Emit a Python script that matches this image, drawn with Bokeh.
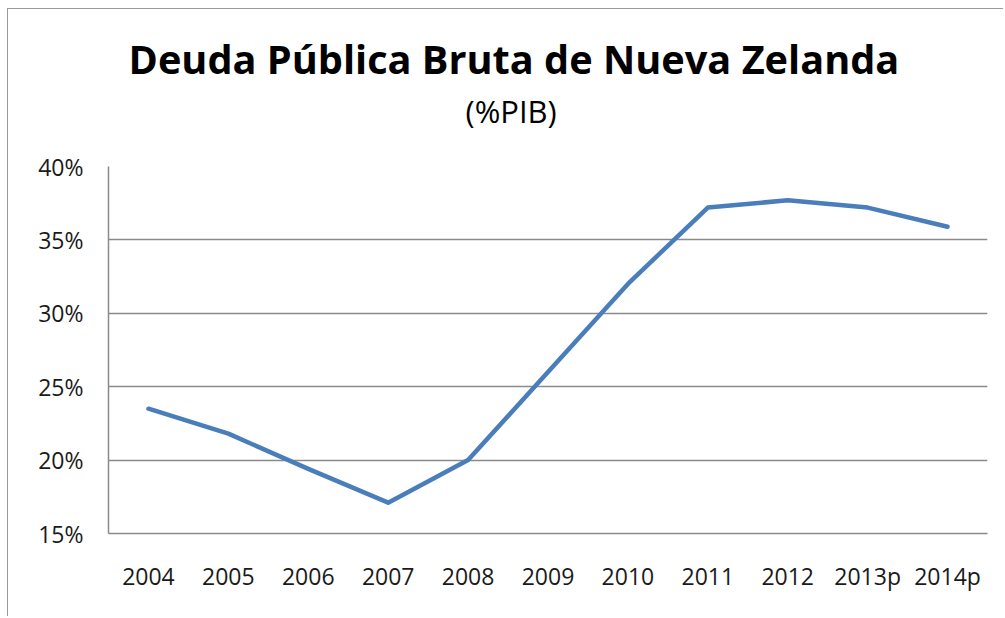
from bokeh.plotting import figure
from bokeh.models import FactorRange, Range1d, Title, FixedTicker, PrintfTickFormatter
from bokeh.embed import file_html
from bokeh.resources import INLINE

# ---- data ----
years = ["2004", "2005", "2006", "2007", "2008", "2009", "2010", "2011", "2012", "2013p", "2014p"]
debt_pct = [23.5, 21.8, 19.4, 17.1, 20.0, 26.0, 32.0, 37.2, 37.7, 37.2, 35.9]
y_ticks = [15, 20, 25, 30, 35, 40]
title_text = "Deuda Pública Bruta de Nueva Zelanda"
subtitle_text = "(%PIB)"

FONT = "Open Sans"
GRID = "#8a8a8a"

p = figure(
    width=996, height=608,
    x_range=FactorRange(*years, range_padding=0),
    y_range=Range1d(15, 40),
    output_backend="svg", toolbar_location=None,
    min_border_left=100, min_border_right=17,
    min_border_top=40, min_border_bottom=84,
)
p.styles = {"margin-left": "7px", "margin-top": "8px",
            "border-left": "1px solid #9a9a9a", "border-top": "1px solid #9a9a9a"}
p.outline_line_color = None
p.background_fill_color = "white"
p.border_fill_color = "white"

p.line(years, debt_pct, line_color="#4a7ebb", line_width=4.5, line_join="round", line_cap="round")

# y axis
p.yaxis.ticker = FixedTicker(ticks=y_ticks)
p.yaxis.formatter = PrintfTickFormatter(format="%d%%")
p.yaxis.axis_line_color = GRID
p.yaxis.axis_line_width = 1.5
p.yaxis.major_tick_line_color = None
p.yaxis.minor_tick_line_color = None
p.yaxis.major_tick_out = 0
p.yaxis.major_tick_in = 0
p.yaxis.major_label_standoff = 25
p.yaxis.major_label_text_font = FONT
p.yaxis.major_label_text_font_size = "23px"
p.yaxis.major_label_text_color = "#1a1a1a"

# x axis
p.xaxis.axis_line_color = GRID
p.xaxis.axis_line_width = 1.5
p.xaxis.major_tick_line_color = None
p.xaxis.minor_tick_line_color = None
p.xaxis.major_tick_out = 0
p.xaxis.major_tick_in = 0
p.xaxis.major_label_standoff = 26
p.xaxis.major_label_text_font = FONT
p.xaxis.major_label_text_font_size = "23px"
p.xaxis.major_label_text_color = "#1a1a1a"

# grids
p.xgrid.grid_line_color = None
p.ygrid.ticker = FixedTicker(ticks=y_ticks)
p.ygrid.grid_line_color = GRID
p.ygrid.grid_line_width = 1.5

# titles (first added sits closest to the plot); blank titles act as spacers
p.add_layout(Title(text=" ", text_font=FONT, text_font_size="10px", standoff=15.7), "above")
p.add_layout(Title(text=subtitle_text, align="left", offset=357, standoff=5.2,
                   text_font=FONT, text_font_size="31px", text_font_style="normal",
                   text_color="#000000"), "above")
p.add_layout(Title(text=title_text, align="left", offset=20, standoff=0,
                   text_font=FONT, text_font_size="39.7px", text_font_style="bold",
                   text_color="#000000"), "above")
p.add_layout(Title(text=" ", text_font=FONT, text_font_size="10px", standoff=3.6), "above")

open("out.html", "w").write(file_html(p, INLINE))
